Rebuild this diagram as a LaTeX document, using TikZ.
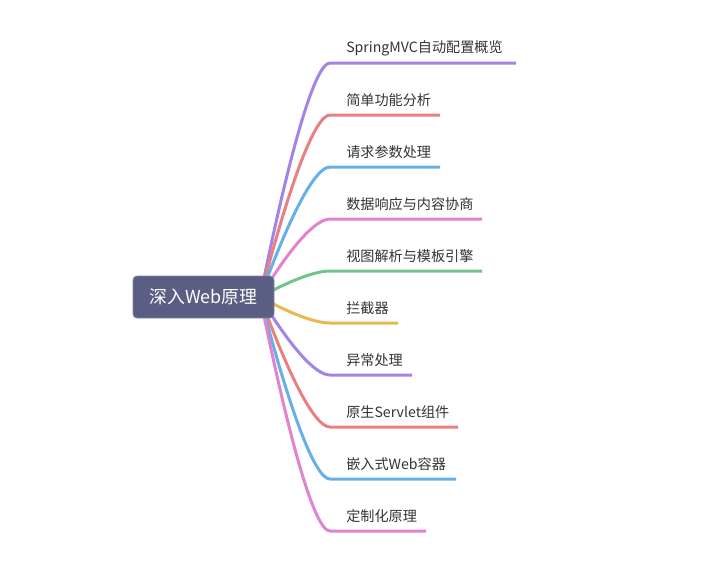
\documentclass[tikz,border=0pt]{standalone}
\usepackage{fontspec}
\setmainfont{Noto Sans CJK SC}
\usetikzlibrary{backgrounds,calc}
\definecolor{cpurple}{HTML}{A283E8}
\definecolor{cred}{HTML}{E88080}
\definecolor{cblue}{HTML}{66B0EA}
\definecolor{cpink}{HTML}{E283D0}
\definecolor{cgreen}{HTML}{72C488}
\definecolor{cyellow}{HTML}{E8B852}
\definecolor{rootfill}{HTML}{5A5E82}
\definecolor{rootline}{HTML}{8085A6}
\definecolor{labtext}{HTML}{333333}
\begin{document}
\begin{tikzpicture}[x=0.75pt,y=-0.75pt,
  rootbox/.style={rectangle, rounded corners=3pt, fill=rootfill, draw=rootline, line width=0.6pt,
    minimum width=105.75pt, minimum height=31.5pt, inner sep=0pt, text=white,
    font=\fontsize{13.4}{15}\selectfont},
  branch/.style={line width=2.25pt},
  lab/.style={anchor=west, inner sep=0pt, text=labtext, font=\fontsize{10.6}{12}\selectfont}]
\useasboundingbox (0,0) rectangle (721,575);
\node[rootbox] (root) at (203.5,297) {深入Web原理};
\coordinate (r) at ($(root.east)+(-14.25,0)$);
\begin{scope}[on background layer]
\foreach \i/\yy/\xe/\col/\txt in {
  1/63/516/cpurple/SpringMVC自动配置概览,
  2/115/440/cred/简单功能分析,
  3/167/440/cblue/请求参数处理,
  4/219/482/cpink/数据响应与内容协商,
  5/271/482/cgreen/视图解析与模板引擎,
  6/323/398/cyellow/拦截器,
  7/375/412/cpurple/异常处理,
  8/427/458/cred/原生Servlet组件,
  9/479/456/cblue/嵌入式Web容器,
  10/531/426/cpink/定制化原理}{
  \coordinate (s\i) at (330,\yy);
  \coordinate (e\i) at (\xe,\yy);
  \pgfmathsetmacro\cy{297+0.63*(\yy-297)}
  \draw[branch,\col] (r) .. controls (290,\cy) and (315,\yy) .. (s\i) -- (e\i);
}
\end{scope}
\foreach \i/\yy/\txt in {
  1/63/SpringMVC自动配置概览,
  2/115/简单功能分析,
  3/167/请求参数处理,
  4/219/数据响应与内容协商,
  5/271/视图解析与模板引擎,
  6/323/拦截器,
  7/375/异常处理,
  8/427/原生Servlet组件,
  9/479/嵌入式Web容器,
  10/531/定制化原理}{
  \node[lab] (t\i) at (346,\yy-14.5) {\txt};
}
\end{tikzpicture}
\end{document}
